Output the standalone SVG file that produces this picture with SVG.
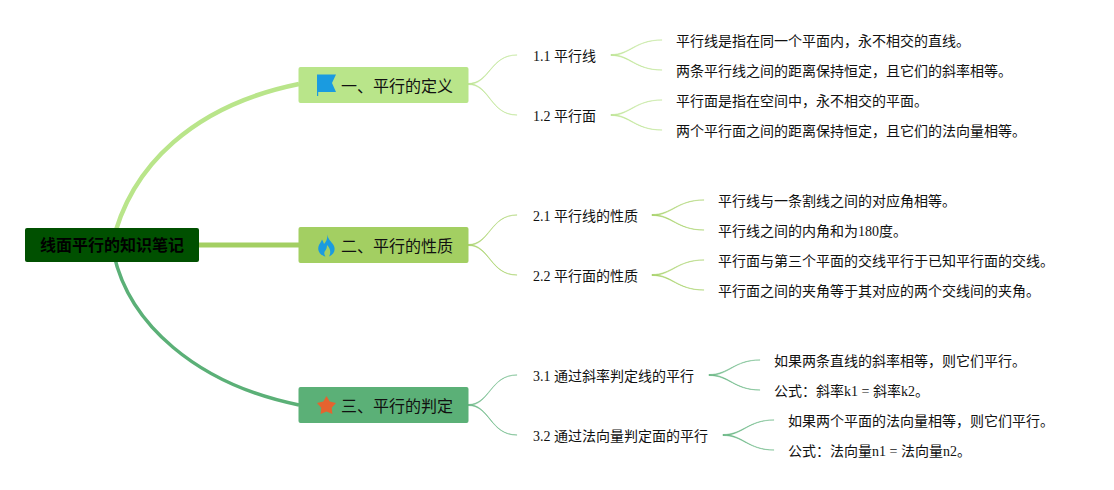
<svg xmlns="http://www.w3.org/2000/svg" width="1114" height="490" viewBox="0 0 1114 490">
<style>
text{font-family:"Liberation Serif","Noto Sans CJK SC",serif;fill:#111}
.d,.s{font-size:14px}.t{font-size:16px}.r{font-size:16px;font-weight:700;fill:#000}
.b1{fill:#bfe596;stroke:#bfe596;stroke-width:.5}.b2{fill:#a9d26c;stroke:#a9d26c;stroke-width:.5}.b3{fill:#6db887;stroke:#6db887;stroke-width:.5}
</style>
<rect width="1114" height="490" fill="#fff"/>
<g id="connectors" fill="none">
<path stroke="#b9e58a" stroke-width="4.500" d="M112 245C130 165 195 105 299 84"/>
<path stroke="#a3cf62" stroke-width="5" d="M112 245H299"/>
<path stroke="#5bb077" stroke-width="3.500" d="M112 245C125 325 200 385 299 405"/>
<g class="b1">
<path d="M468 83.500C490 83.500 490 54.900 517 54.900V55.100C490 55.100 490 84.500 468 84.500Z"/>
<path d="M468 83.500C490 83.500 490 114.900 517 114.900V115.100C490 115.100 490 84.500 468 84.500Z"/>
<path d="M611 54.500C630 54.500 635 39.900 662 39.900V40.100C635 40.100 630 55.500 611 55.500Z"/>
<path d="M611 54.500C630 54.500 635 69.900 662 69.900V70.100C635 70.100 630 55.500 611 55.500Z"/>
<path d="M611 114.500C630 114.500 635 99.900 662 99.900V100.100C635 100.100 630 115.500 611 115.500Z"/>
<path d="M611 114.500C630 114.500 635 129.900 662 129.900V130.100C635 130.100 630 115.500 611 115.500Z"/>
</g>
<g class="b2">
<path d="M468 244.500C490 244.500 490 214.900 517 214.900V215.100C490 215.100 490 245.500 468 245.500Z"/>
<path d="M468 244.500C490 244.500 490 274.900 517 274.900V275.100C490 275.100 490 245.500 468 245.500Z"/>
<path d="M652 214.500C672 214.500 677 199.900 704 199.900V200.100C677 200.100 672 215.500 652 215.500Z"/>
<path d="M652 214.500C672 214.500 677 229.900 704 229.900V230.100C677 230.100 672 215.500 652 215.500Z"/>
<path d="M652 274.500C672 274.500 677 259.900 704 259.900V260.100C677 260.100 672 275.500 652 275.500Z"/>
<path d="M652 274.500C672 274.500 677 289.900 704 289.900V290.100C677 290.100 672 275.500 652 275.500Z"/>
</g>
<g class="b3">
<path d="M468 404.500C490 404.500 490 374.900 517 374.900V375.100C490 375.100 490 405.500 468 405.500Z"/>
<path d="M468 404.500C490 404.500 490 434.900 517 434.900V435.100C490 435.100 490 405.500 468 405.500Z"/>
<path d="M709 374.500C729 374.500 734 359.900 760 359.900V360.100C734 360.100 729 375.500 709 375.500Z"/>
<path d="M709 374.500C729 374.500 734 389.900 760 389.900V390.100C734 390.100 729 375.500 709 375.500Z"/>
<path d="M723 434.500C743 434.500 748 419.900 774 419.900V420.100C748 420.100 743 435.500 723 435.500Z"/>
<path d="M723 434.500C743 434.500 748 449.900 774 449.900V450.100C748 450.100 743 435.500 723 435.500Z"/>
</g>
</g>
<g id="root"><rect x="25" y="228" width="174" height="34" rx="2" fill="#005000"/><text class="r" x="40" y="251">线面平行的知识笔记</text></g>
<g id="topic1"><rect x="298.500" y="67" width="170" height="36" rx="2" fill="#b9e58a"/>
<path d="M317 74.500H336L332 83L336 92H318.200V96H317Z" fill="#1a9be0"/><text class="t" x="341" y="92">一、平行的定义</text></g>
<g id="topic2"><rect x="298.500" y="227" width="170" height="36" rx="2" fill="#a3cf62"/>
<path d="M327.500 234.500C328 240 331.500 241.500 333.500 245C336.500 250 333 255 329 256.500C331.500 252 330 248 327 245C327 249 325.500 250 324.500 252C324 253.500 324.500 255 325.500 256.500C320.500 255.500 316.500 250.500 319 245C320 243 321 242 322 239.500C323 241 323.500 242.500 324 244C326 242 327.500 239 327.500 234.500Z" fill="#1a9be0"/><text class="t" x="341" y="252">二、平行的性质</text></g>
<g id="topic3"><rect x="298.500" y="387" width="170" height="36" rx="2" fill="#5bb077"/>
<path d="M326.500 396L329.700 401.500L336 403L331.700 407.700L332.400 414L326.500 411.500L320.600 414L321.300 407.700L317 403L323.300 401.500Z" fill="#e5632f"/><text class="t" x="341" y="412">三、平行的判定</text></g>
<g id="n11"><text class="s" x="533" y="61">1.1 平行线</text></g>
<g id="n12"><text class="s" x="533" y="121">1.2 平行面</text></g>
<g id="n21"><text class="s" x="533" y="221">2.1 平行线的性质</text></g>
<g id="n22"><text class="s" x="533" y="281">2.2 平行面的性质</text></g>
<g id="n31"><text class="s" x="533" y="381">3.1 通过斜率判定线的平行</text></g>
<g id="n32"><text class="s" x="533" y="441">3.2 通过法向量判定面的平行</text></g>
<g id="d111"><text class="d" x="676" y="46">平行线是指在同一个平面内，永不相交的直线。</text></g>
<g id="d112"><text class="d" x="676" y="76">两条平行线之间的距离保持恒定，且它们的斜率相等。</text></g>
<g id="d121"><text class="d" x="676" y="106">平行面是指在空间中，永不相交的平面。</text></g>
<g id="d122"><text class="d" x="676" y="136">两个平行面之间的距离保持恒定，且它们的法向量相等。</text></g>
<g id="d211"><text class="d" x="718" y="206">平行线与一条割线之间的对应角相等。</text></g>
<g id="d212"><text class="d" x="718" y="236">平行线之间的内角和为180度。</text></g>
<g id="d221"><text class="d" x="718" y="266">平行面与第三个平面的交线平行于已知平行面的交线。</text></g>
<g id="d222"><text class="d" x="718" y="296">平行面之间的夹角等于其对应的两个交线间的夹角。</text></g>
<g id="d311"><text class="d" x="774" y="366">如果两条直线的斜率相等，则它们平行。</text></g>
<g id="d312"><text class="d" x="774" y="396">公式：斜率k1 = 斜率k2。</text></g>
<g id="d321"><text class="d" x="788" y="426">如果两个平面的法向量相等，则它们平行。</text></g>
<g id="d322"><text class="d" x="788" y="456">公式：法向量n1 = 法向量n2。</text></g>
</svg>
